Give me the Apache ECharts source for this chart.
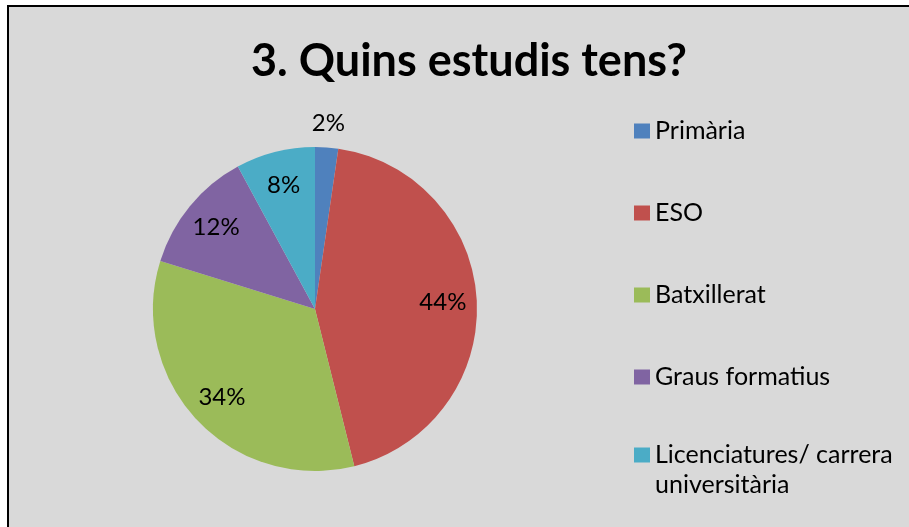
<!DOCTYPE html>
<html>
<head>
<meta charset="utf-8">
<script src="https://cdn.jsdelivr.net/npm/echarts@6/dist/echarts.min.js"></script>
<style>
  html, body { margin: 0; padding: 0; background: #fff; }
  #frame { position: absolute; left: 7px; top: 5px; width: 920px; height: 540px;
           border: 2px solid #000; background: #d9d9d9; }
  #chart { position: absolute; left: 0; top: 0; width: 909px; height: 527px; }
</style>
</head>
<body>
<div id="frame"></div>
<div id="chart"></div>
<script>
// Estudis (percentatges llegits del gràfic)
const categories = ["Primària", "ESO", "Batxillerat", "Graus formatius", "Licenciatures/ carrera universitària"];
const values = [2.3, 43.8, 33.7, 12.3, 7.9];
const colors = ["#4f81bd", "#c0504d", "#9bbb59", "#8064a2", "#4bacc6"];

const chart = echarts.init(document.getElementById("chart"));

const pieData = categories.map((name, i) => ({ name: name, value: values[i] }));

// etiquetes dins del pastís (menys Primària)
const innerLabels = categories.map((name, i) => ({
  name: name, value: values[i], label: { show: i !== 0 }
}));
// etiqueta de Primària, just fora del pastís
const outerLabels = categories.map((name, i) => ({
  name: name, value: values[i], label: { show: i === 0 }
}));

const labelStyle = {
  position: "inside",
  fontFamily: "Lato",
  fontSize: 24,
  color: "#000",
  formatter: p => Math.round(p.value) + "%"
};

const legendText = { fontFamily: "Lato", fontSize: 25, color: "#000", lineHeight: 30 };

const option = {
  backgroundColor: "transparent",
  color: colors,
  animation: false,
  title: {
    text: "3. Quins estudis tens?",
    left: 464,
    top: 34,
    textAlign: "center",
    textStyle: { fontFamily: "Lato", fontWeight: "bold", fontSize: 45, color: "#000" }
  },
  legend: [
    {
      orient: "vertical",
      left: 634,
      top: 116,
      padding: 0,
      itemWidth: 16,
      itemHeight: 15,
      itemGap: 52,
      icon: "rect",
      textStyle: legendText,
      data: categories.slice(0, 4)
    },
    {
      // l'última entrada ocupa dues línies; el quadrat va amb la primera
      // (línia buida al davant perquè el bloc quedi centrat a la primera línia)
      orient: "vertical",
      left: 634,
      top: 410,
      padding: 0,
      itemWidth: 16,
      itemHeight: 15,
      icon: "rect",
      textStyle: legendText,
      formatter: n => "\n" + n.replace("carrera ", "carrera\n"),
      data: categories.slice(4)
    }
  ],
  series: [
    {
      type: "pie",
      center: [315, 309],
      radius: 162,
      startAngle: 90,
      clockwise: true,
      label: { show: false },
      labelLine: { show: false },
      emphasis: { disabled: true },
      data: pieData
    },
    {
      // capa transparent només per col·locar les etiquetes
      type: "pie",
      center: [315, 309],
      radius: [88, 162],
      startAngle: 90,
      silent: true,
      legendHoverLink: false,
      itemStyle: { color: "transparent" },
      label: labelStyle,
      labelLine: { show: false },
      emphasis: { disabled: true },
      data: innerLabels
    },
    {
      type: "pie",
      center: [315, 309],
      radius: [164, 202],
      startAngle: 90,
      silent: true,
      legendHoverLink: false,
      itemStyle: { color: "transparent" },
      label: labelStyle,
      labelLine: { show: false },
      emphasis: { disabled: true },
      data: outerLabels
    }
  ]
};

chart.setOption(option);
</script>
</body>
</html>
